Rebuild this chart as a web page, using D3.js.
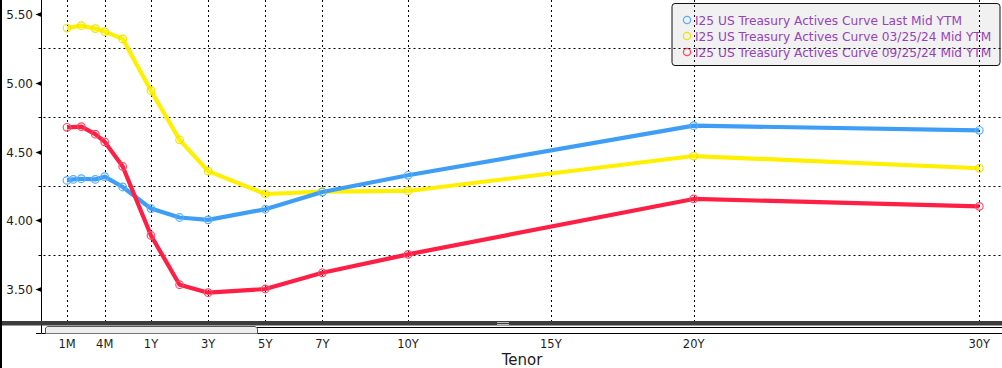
<!DOCTYPE html>
<html lang="en">
<head>
<meta charset="UTF-8">
<title>Treasury Actives Curve</title>
<script src="https://cdn.jsdelivr.net/npm/d3@7"></script>
<style>
    body { margin: 0; background: #fff; }
    svg { display: block; font-family: "DejaVu Sans", Verdana, sans-serif; }
</style>
</head>
<body>
<div id="chart"></div>
<script>
    // tenors (in years) and labels
    const tenorNames = ["1M", "6W", "2M", "3M", "4M", "6M", "1Y", "2Y", "3Y", "5Y", "7Y", "10Y", "20Y", "30Y"];
    const tenorYears = [1/12, 1.5/12, 2/12, 3/12, 4/12, 0.5, 1, 2, 3, 5, 7, 10, 20, 30];

    const lastMid = [4.290, 4.297, 4.302, 4.297, 4.317, 4.242, 4.085, 4.020, 4.003, 4.080, 4.205, 4.327, 4.688, 4.654];
    const mar25 = [5.398, null, 5.415, 5.394, 5.372, 5.319, 4.942, 4.585, 4.357, 4.191, 4.208, 4.213, 4.467, 4.378];
    const sep25 = [4.676, null, 4.681, 4.626, 4.570, 4.391, 3.889, 3.531, 3.473, 3.500, 3.618, 3.752, 4.155, 4.101];

    const xTickYears = [1/12, 4/12, 1, 3, 5, 7, 10, 15, 20, 30];
    const xTickLabels = ["1M", "4M", "1Y", "3Y", "5Y", "7Y", "10Y", "15Y", "20Y", "30Y"];
    const yTicks = [3.5, 4.0, 4.5, 5.0, 5.5];
    const yGrid = [3.75, 4.25, 4.75, 5.25];

    const seriesNames = [
        "I25 US Treasury Actives Curve Last Mid YTM",
        "I25 US Treasury Actives Curve 03/25/24 Mid YTM",
        "I25 US Treasury Actives Curve 09/25/24 Mid YTM"
    ];

    const W = 1002, H = 368;
    const axisX = 41.5, plotBottom = 321;

    const svg = d3.select("#chart").append("svg")
        .attr("width", W).attr("height", H);

    // x axis is stretched at the short end (piecewise linear)
    const x = d3.scaleLinear()
        .domain([1/12, 1.5/12, 2/12, 3/12, 4/12, 0.5, 1, 30])
        .range([67, 73.3, 81.3, 95.3, 104.7, 122.7, 151, 979.3]);
    const y = d3.scaleLinear().domain([3.5, 5.5]).range([289, 14]);

    const series = [
        {name: seriesNames[0], values: lastMid, color: "#3e9ef6", marker: "#5aaeff", order: 1},
        {name: seriesNames[1], values: mar25, color: "#fff000", marker: "#f0e400", order: 0},
        {name: seriesNames[2], values: sep25, color: "#ff1e44", marker: "#ff4a66", order: 2}
    ];

    // legend (gridlines run over it)
    const lg = svg.append("g").attr("transform", "translate(672,3.5)");
    lg.append("rect").attr("width", 328).attr("height", 62).attr("rx", 3)
        .attr("fill", "#f1f1f1").attr("stroke", "#111").attr("stroke-width", 1);
    series.forEach((s, i) => {
        lg.append("circle").attr("cx", 15).attr("cy", 16.5 + i * 16).attr("r", 3.6)
            .attr("fill", "none").attr("stroke", s.marker).attr("stroke-width", 1.3);
        lg.append("text").attr("x", 23).attr("y", 21 + i * 16)
            .attr("font-size", "12.2px").attr("fill", "#9543b8").text(s.name);
    });

    // grid
    const grid = svg.append("g").attr("stroke", "#000").attr("stroke-width", 1)
        .attr("stroke-dasharray", "2,3");
    grid.selectAll("line.v").data(xTickYears).enter().append("line")
        .attr("x1", d => Math.round(x(d)) + 0.5).attr("x2", d => Math.round(x(d)) + 0.5)
        .attr("y1", 0).attr("y2", plotBottom);
    grid.selectAll("line.h").data(yGrid).enter().append("line")
        .attr("x1", axisX + 2).attr("x2", W)
        .attr("y1", d => Math.round(y(d)) + 0.5).attr("y2", d => Math.round(y(d)) + 0.5);

    // lines
    const line = d3.line()
        .defined(d => d.v != null)
        .x(d => x(d.t)).y(d => y(d.v));
    const ordered = series.slice().sort((a, b) => a.order - b.order);
    ordered.forEach(s => {
        const pts = s.values.map((v, i) => ({t: tenorYears[i], v: v}));
        svg.append("path").datum(pts.filter(d => d.v != null))
            .attr("d", line).attr("fill", "none")
            .attr("stroke", s.color).attr("stroke-width", 4.2)
            .attr("stroke-linejoin", "round");
        svg.append("g").selectAll("circle")
            .data(pts.filter(d => d.v != null)).enter().append("circle")
            .attr("cx", d => x(d.t)).attr("cy", d => y(d.v)).attr("r", 3.8)
            .attr("fill", "none").attr("stroke", s.marker).attr("stroke-width", 1.2);
    });

    // white area under the plot
    svg.append("rect").attr("x", 0).attr("y", plotBottom).attr("width", W).attr("height", H - plotBottom)
        .attr("fill", "#fff");

    // y axis
    svg.append("line").attr("x1", axisX).attr("x2", axisX).attr("y1", 0).attr("y2", 333)
        .attr("stroke", "#000");
    yTicks.forEach(v => {
        const yy = Math.round(y(v)) + 0.5;
        svg.append("path")
            .attr("d", `M${axisX},${yy - 2.5}L${axisX - 6},${yy}L${axisX},${yy + 2.5}Z`)
            .attr("fill", "#000");
        svg.append("text").attr("x", 33).attr("y", yy + 4.5).attr("text-anchor", "end")
            .attr("font-size", "12px").attr("fill", "#1c1c1c").text(v.toFixed(2));
    });
    yGrid.forEach(v => {
        const yy = Math.round(y(v)) + 0.5;
        svg.append("line").attr("x1", axisX - 3).attr("x2", axisX).attr("y1", yy).attr("y2", yy)
            .attr("stroke", "#000");
    });

    // divider bar + scroller strip
    svg.append("rect").attr("x", 0).attr("y", plotBottom).attr("width", W).attr("height", 4.5)
        .attr("fill", "#3c3c3c");
    svg.append("g").attr("stroke", "#bbb").selectAll("line").data([0, 2]).enter().append("line")
        .attr("x1", 497).attr("x2", 509).attr("y1", d => 322.5 + d).attr("y2", d => 322.5 + d);
    svg.append("line").attr("x1", 257).attr("x2", W).attr("y1", 327.5).attr("y2", 327.5).attr("stroke", "#000");
    svg.append("line").attr("x1", axisX).attr("x2", W).attr("y1", 333.5).attr("y2", 333.5).attr("stroke", "#000");
    svg.append("path").attr("d", "M45.5,333.5L45.5,328L47.5,326.5L255,326.5L257.5,328.5L257.5,333.5")
        .attr("fill", "#eeeeee").attr("stroke", "#555");
    svg.append("path").attr("d", `M36,333.5L${axisX},333.5`).attr("stroke", "#000");

    // x tick labels
    svg.selectAll("text.xl").data(xTickYears).enter().append("text")
        .attr("x", d => x(d)).attr("y", 347.5).attr("text-anchor", "middle")
        .attr("font-size", "11.5px").attr("fill", "#1c1c1c")
        .text((d, i) => xTickLabels[i]);

    svg.append("text").attr("x", 522).attr("y", 365).attr("text-anchor", "middle")
        .attr("font-size", "15px").attr("fill", "#1c1c1c").text("Tenor");

    // left frame edge
    svg.append("rect").attr("x", 0).attr("y", 0).attr("width", 2).attr("height", H).attr("fill", "#000");
</script>
</body>
</html>
